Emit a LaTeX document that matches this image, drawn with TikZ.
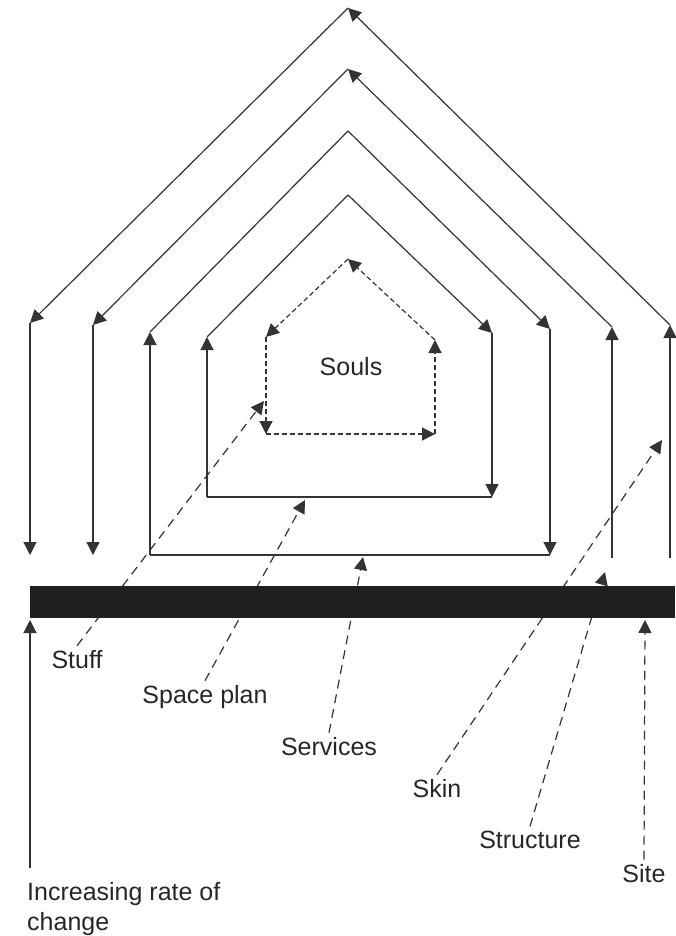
\documentclass[tikz,border=0pt]{standalone}
\usepackage{fontspec}
\setmainfont{Liberation Sans}
\usetikzlibrary{arrows.meta}
\usetikzlibrary{positioning}

\tikzset{
  ln/.style={line width=1.2pt, draw=black!80, -{Triangle[length=13pt,width=13pt]}},
  soulline/.style={ln, dash pattern=on 5pt off 3pt},
  pointer/.style={ln, dash pattern=on 9pt off 6pt},
  lab/.style={font=\fontsize{25}{30}\selectfont, text=black!85, anchor=base, inner sep=4pt},
}

\begin{document}
\begin{tikzpicture}[x=1pt,y=-1pt]
    \useasboundingbox (0,0) rectangle (675,936);

    % outer ring
    \coordinate (skA) at (348,8);
    \coordinate (skL) at (30,323);
    \coordinate (skR) at (670,325);
    \coordinate (skLB) at (30,555);
    \coordinate (skRB) at (670,558);
    % second ring
    \coordinate (stA) at (348,69);
    \coordinate (stL) at (93,325);
    \coordinate (stR) at (612,327);
    \coordinate (stLB) at (93,555);
    \coordinate (stRB) at (612,558);
    % third ring
    \coordinate (seA) at (348,131);
    \coordinate (seL) at (150,332);
    \coordinate (seR) at (550,329);
    \coordinate (seLB) at (150,555);
    \coordinate (seRB) at (550,555);
    % fourth ring
    \coordinate (spA) at (348,195);
    \coordinate (spL) at (207,337);
    \coordinate (spR) at (492,333);
    \coordinate (spLB) at (207,497);
    \coordinate (spRB) at (492,497);
    % souls
    \coordinate (soA) at (348,259);
    \coordinate (soL) at (266,337);
    \coordinate (soR) at (435,340);
    \coordinate (soLB) at (266,434);
    \coordinate (soRB) at (435,434);

    \draw[ln] (skRB) -- (skR);
    \draw[ln] (skR) -- (skA);
    \draw[ln] (skA) -- (skL);
    \draw[ln] (skL) -- (skLB);

    \draw[ln] (stRB) -- (stR);
    \draw[ln] (stR) -- (stA);
    \draw[ln] (stA) -- (stL);
    \draw[ln] (stL) -- (stLB);

    \draw[ln] (seLB) -- (seL);
    \draw[ln, -] (seL) -- (seA);
    \draw[ln] (seA) -- (seR);
    \draw[ln] (seR) -- (seRB);
    \draw[ln, -] (seRB) -- (seLB);

    \draw[ln] (spLB) -- (spL);
    \draw[ln, -] (spL) -- (spA);
    \draw[ln] (spA) -- (spR);
    \draw[ln] (spR) -- (spRB);
    \draw[ln, -] (spRB) -- (spLB);

    \draw[soulline] (soLB) -- (soRB);
    \draw[soulline] (soRB) -- (soR);
    \draw[soulline] (soR) -- (soA);
    \draw[soulline] (soA) -- (soL);
    \draw[soulline] (soL) -- (soLB);

    \node(souls)[lab] at (351,375) {Souls};

    % labels below the ground
    \node(stuff)[lab] at (77,668) {Stuff};
    \node(space)[lab] at (205,703) {Space plan};
    \node(serv)[lab] at (329,755) {Services};
    \node(skin)[lab] at (437,797) {Skin};
    \node(struct)[lab] at (530,848) {Structure};
    \node(site)[lab] at (644,882) {Site};
    \node(inc)[lab, anchor=north west, inner sep=0pt, align=left] at (27,882) {Increasing rate of\\change};

    \coordinate (stuffT) at (264,401);
    \coordinate (spaceT) at (305,500);
    \coordinate (servT) at (363,557);
    \coordinate (skinT) at (662,440);
    \coordinate (structT) at (605,572);
    \coordinate (siteT) at (645,620);
    \coordinate (incS) at (30,868);
    \coordinate (incT) at (30,620);

    \draw[pointer] (stuff.north) -- (stuffT);
    \draw[pointer] (space.north) -- (spaceT);
    \draw[pointer] (serv.north) -- (servT);
    \draw[pointer] (skin.north) -- (skinT);
    \draw[pointer] (struct.north) -- (structT);
    \draw[pointer] (site.north) -- (siteT);
    \draw[ln] (incS) -- (incT);

    % ground
    \fill[black!88] (30,586) rectangle (675,618);

\end{tikzpicture}
\end{document}
